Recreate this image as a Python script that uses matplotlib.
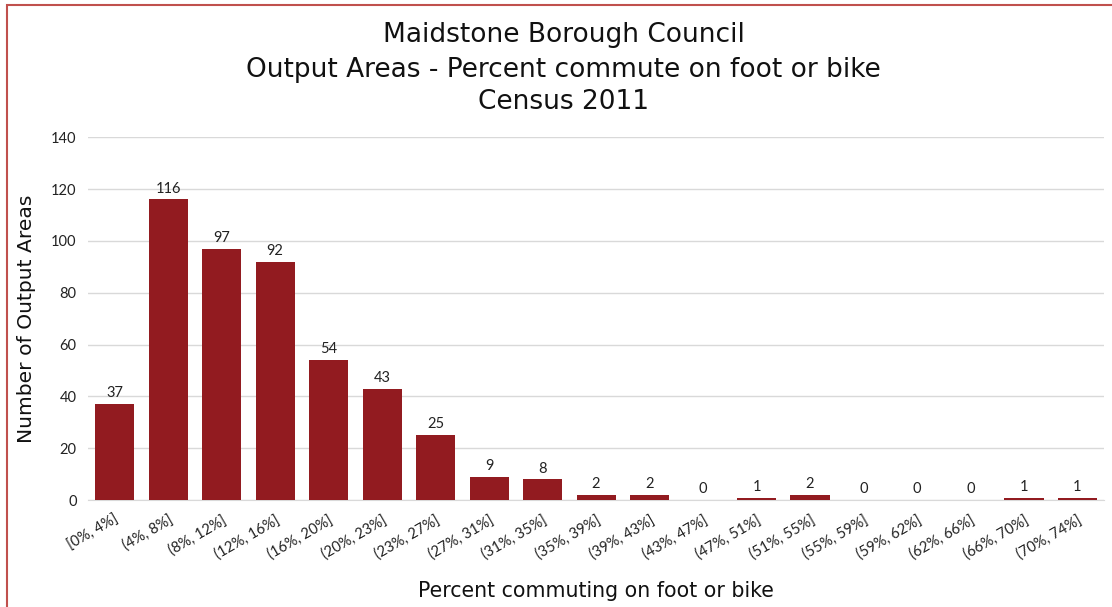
import matplotlib.pyplot as plt
from matplotlib.patches import Rectangle

# data
bins = ['[0%, 4%]', '(4%, 8%]', '(8%, 12%]', '(12%, 16%]', '(16%, 20%]',
        '(20%, 23%]', '(23%, 27%]', '(27%, 31%]', '(31%, 35%]', '(35%, 39%]',
        '(39%, 43%]', '(43%, 47%]', '(47%, 51%]', '(51%, 55%]', '(55%, 59%]',
        '(59%, 62%]', '(62%, 66%]', '(66%, 70%]', '(70%, 74%]']
counts = [37, 116, 97, 92, 54, 43, 25, 9, 8, 2, 2, 0, 1, 2, 0, 0, 0, 1, 1]

bar_color = '#921B20'
plt.rcParams['font.family'] = ['Lato', 'DejaVu Sans']
title_font = 'DejaVu Sans'

fig = plt.figure(figsize=(11.12, 6.07), dpi=100)
ax = fig.add_axes([0.079, 0.176, 0.914, 0.598])

x = range(len(bins))
ax.bar(x, counts, width=0.73, color=bar_color, zorder=3)
for xi, c in zip(x, counts):
    ax.text(xi, c + 1.5, str(c), ha='center', va='bottom', fontsize=10.5, color='#222222')

ax.set_xlim(-0.5, len(bins) - 0.5)
ax.set_ylim(0, 140)
ax.set_yticks(range(0, 141, 20))
ax.set_xticks(list(x))
ax.set_xticklabels(bins, rotation=30, ha='right', rotation_mode='anchor', fontsize=10.5)
ax.tick_params(axis='both', length=0, labelsize=10.5, colors='#222222')
ax.tick_params(axis='x', pad=9)
ax.tick_params(axis='y', pad=8)
ax.grid(axis='y', color='#d9d9d9', linewidth=1, zorder=0)
for s in ['top', 'right', 'left']:
    ax.spines[s].set_visible(False)
ax.spines['bottom'].set_color('#d9d9d9')

ax.set_ylabel('Number of Output Areas', fontsize=14.6, family=title_font,
              color='#111111', labelpad=11)
ax.set_xlabel('Percent commuting on foot or bike', fontsize=14.8, family=title_font,
              color='#111111', labelpad=14)

for yy, line in zip([0.942, 0.885, 0.832],
                    ['Maidstone Borough Council',
                     'Output Areas - Percent commute on foot or bike',
                     'Census 2011']):
    fig.text(0.507, yy, line, ha='center', va='center', fontsize=19,
             family=title_font, color='#111111')

# outer border of the original chart frame
fig.patches.append(Rectangle((7 / 1112, -0.05), 1.2, 1 - 5 / 607 + 0.05,
                             transform=fig.transFigure, fill=False,
                             edgecolor='#c0504d', linewidth=1.5))

fig.savefig('out.png', dpi=100)
